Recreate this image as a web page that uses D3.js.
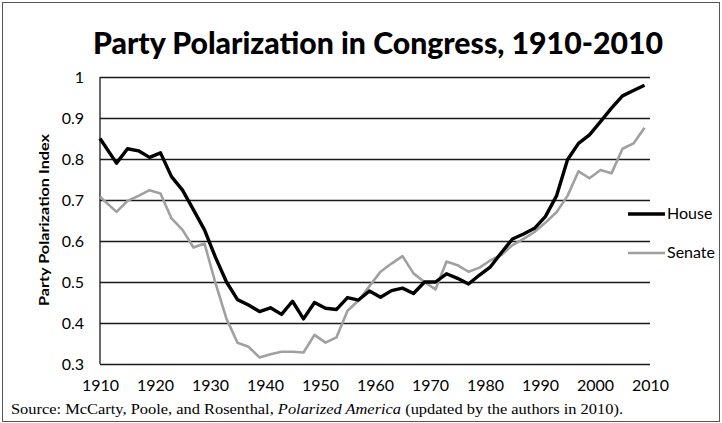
<!DOCTYPE html>
<html>
<head>
<meta charset="utf-8">
<script src="https://cdn.jsdelivr.net/npm/d3@7"></script>
<style>
  body { margin: 0; background: #fff; }
  svg { display: block; }
  .tick text { font-family: Lato, "Open Sans", sans-serif; font-size: 16px; fill: #000; }
</style>
</head>
<body>
<div id="chart"></div>
<script>
// years of each reading (Congress midpoints)
const years = [1910, 1913, 1915, 1917, 1919, 1921, 1923, 1925, 1927, 1929,
    1931, 1933, 1935, 1937, 1939, 1941, 1943, 1945, 1947, 1949,
    1951, 1953, 1955, 1957, 1959, 1961, 1963, 1965, 1967, 1969,
    1971, 1973, 1975, 1977, 1979, 1981, 1983, 1985, 1987, 1989,
    1991, 1993, 1995, 1997, 1999, 2001, 2003, 2005, 2007, 2009];

const house = [0.85, 0.79, 0.825, 0.82, 0.804, 0.815, 0.757, 0.724, 0.676, 0.627,
    0.56, 0.50, 0.457, 0.444, 0.428, 0.437, 0.421, 0.453, 0.41, 0.45,
    0.436, 0.433, 0.462, 0.456, 0.478, 0.463, 0.479, 0.485, 0.472, 0.50,
    0.50, 0.52, 0.509, 0.495, 0.517, 0.537, 0.572, 0.605, 0.617, 0.631,
    0.66, 0.71, 0.798, 0.838, 0.859, 0.891, 0.924, 0.954, 0.967, 0.98];

const senate = [0.708, 0.671, 0.698, 0.71, 0.724, 0.716, 0.655, 0.627, 0.584, 0.594,
    0.497, 0.41, 0.352, 0.342, 0.316, 0.324, 0.33, 0.33, 0.328, 0.371,
    0.352, 0.365, 0.43, 0.455, 0.49, 0.525, 0.545, 0.563, 0.521, 0.50,
    0.482, 0.55, 0.541, 0.525, 0.535, 0.553, 0.566, 0.59, 0.605, 0.622,
    0.645, 0.67, 0.71, 0.77, 0.753, 0.773, 0.765, 0.825, 0.838, 0.876];

const xTicks = [1910, 1920, 1930, 1940, 1950, 1960, 1970, 1980, 1990, 2000, 2010];
const yTicks = [0.3, 0.4, 0.5, 0.6, 0.7, 0.8, 0.9, 1];

const W = 722, H = 423;
const margin = {top: 77, right: 72, bottom: 59, left: 100},
    width = W - margin.left - margin.right,
    height = H - margin.top - margin.bottom;

const svg = d3.select("#chart").append("svg")
    .attr("width", W)
    .attr("height", H);

// outer frame
svg.append("rect")
    .attr("x", 2.5).attr("y", 2.5)
    .attr("width", W - 5).attr("height", H - 4)
    .attr("fill", "none")
    .attr("stroke", "#555")
    .attr("stroke-width", 1);

svg.append("text")
    .attr("x", 378).attr("y", 54)
    .attr("text-anchor", "middle")
    .attr("textLength", 570)
    .attr("lengthAdjust", "spacingAndGlyphs")
    .style("font-family", "Lato, 'Open Sans', sans-serif")
    .style("font-weight", "900")
    .style("font-size", "31px")
    .text("Party Polarization in Congress, 1910-2010");

const x = d3.scaleLinear().domain([1910, 2010]).range([0, width]);
const y = d3.scaleLinear().domain([0.3, 1]).range([height, 0]);

const g = svg.append("g")
    .attr("transform", `translate(${margin.left},${margin.top})`);

// horizontal gridlines + y labels
g.append("g")
    .attr("class", "axis axis--y")
    .call(d3.axisLeft(y).tickValues(yTicks).tickSize(-width).tickPadding(16)
        .tickFormat(d => d3.format("")(+d.toFixed(1))))
    .call(a => a.select(".domain").remove())
    .call(a => a.selectAll(".tick line").attr("stroke", "#1a1a1a").attr("stroke-width", 1.3));

// left axis line
g.append("line")
    .attr("x1", 0).attr("x2", 0)
    .attr("y1", 0).attr("y2", height)
    .attr("stroke", "#1a1a1a")
    .attr("stroke-width", 1.3);

g.append("g")
    .attr("class", "axis axis--x")
    .attr("transform", `translate(0,${height})`)
    .call(d3.axisBottom(x).tickValues(xTicks).tickSize(0).tickPadding(16)
        .tickFormat(d3.format("d")))
    .call(a => a.select(".domain").remove());

svg.append("text")
    .attr("transform", "rotate(-90)")
    .attr("x", -220).attr("y", 49)
    .attr("text-anchor", "middle")
    .attr("textLength", 172)
    .attr("lengthAdjust", "spacingAndGlyphs")
    .style("font-family", "Lato, 'Open Sans', sans-serif")
    .style("font-weight", "bold")
    .style("font-size", "14px")
    .text("Party Polarization Index");

const line = d3.line()
    .x((d, i) => x(years[i]))
    .y(d => y(d));

g.append("path")
    .datum(senate)
    .attr("fill", "none")
    .attr("stroke", "#a0a0a0")
    .attr("stroke-width", 2.6)
    .attr("stroke-linejoin", "round")
    .attr("d", line);

g.append("path")
    .datum(house)
    .attr("fill", "none")
    .attr("stroke", "#000")
    .attr("stroke-width", 3.4)
    .attr("stroke-linejoin", "round")
    .attr("d", line);

// legend
const legend = [
    {name: "House", color: "#000", w: 3.4, y: 214},
    {name: "Senate", color: "#a0a0a0", w: 2.4, y: 253}
];
const lg = svg.append("g");
lg.selectAll("line").data(legend).enter().append("line")
    .attr("x1", 628).attr("x2", 665)
    .attr("y1", d => d.y).attr("y2", d => d.y)
    .attr("stroke", d => d.color)
    .attr("stroke-width", d => d.w);
lg.selectAll("text").data(legend).enter().append("text")
    .attr("x", 667).attr("y", d => d.y + 5)
    .attr("fill", "#000")
    .style("font-family", "Lato, 'Open Sans', sans-serif")
    .style("font-size", "16px")
    .text(d => d.name);

// source note
const src = svg.append("text")
    .attr("x", 11).attr("y", 414)
    .attr("textLength", 612)
    .attr("lengthAdjust", "spacingAndGlyphs")
    .style("font-family", "'Liberation Serif', 'Times New Roman', serif")
    .style("font-size", "14.5px");
src.append("tspan").text("Source: McCarty, Poole, and Rosenthal, ");
src.append("tspan").style("font-style", "italic").text("Polarized America");
src.append("tspan").text("  (updated by the authors in 2010).");
</script>
</body>
</html>
